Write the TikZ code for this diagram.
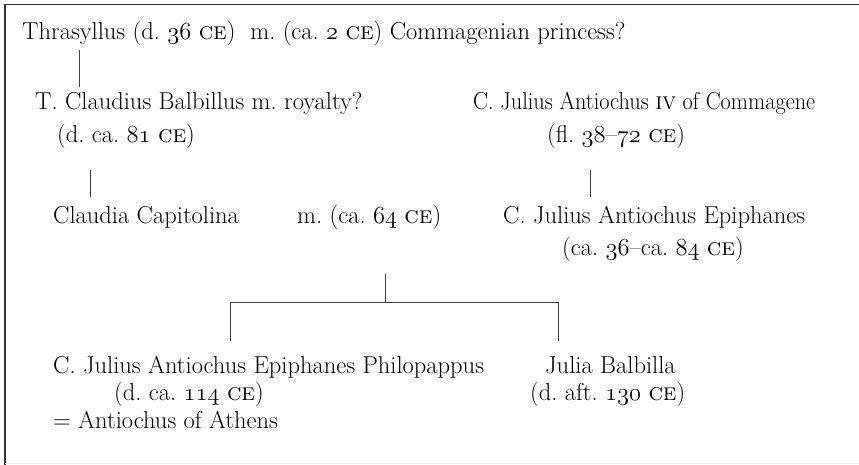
\documentclass[tikz,border=0pt]{standalone}
\usepackage{fix-cm}
\newcommand{\os}[1]{{\usefont{OML}{cmm}{m}{it}#1}}
\newcommand{\ce}{\textsc{ce}}
\begin{document}
\frenchspacing
\begin{tikzpicture}[x=1pt,y=-1pt,
  txt/.style={anchor=base west,inner sep=0pt,font=\fontsize{24.5}{30}\selectfont\frenchspacing,text=black},
  link/.style={draw=black!75,line width=0.9pt},
  frame/.style={draw=black!80,line width=1.2pt},
  faint/.style={draw=black!8,line width=1pt}]
\useasboundingbox (0,0) rectangle (859,465);
% frame
\coordinate (ftl) at (5,4.5);
\coordinate (ftr) at (859,4.5);
\coordinate (fbl) at (5,465);
\coordinate (bl) at (5,463);
\coordinate (br) at (859,463);
\draw[frame] (fbl) -- (ftl) -- (ftr);
\draw[faint] (bl) -- (br);
% texts
\node[txt] (thr) at (22,40) {Thrasyllus (d. \os{36} \ce)\ \ m. (ca. \os{2} \ce) Commagenian princess?};
\node[txt] (bal) at (35,110) {T. Claudius Balbillus m. royalty?};
\node[txt] (bald) at (57,143) {(d. ca. \os{81} \ce)};
\node[txt] (ant) at (473,110) {\scalebox{0.91}[1]{C. Julius Antiochus \textsc{iv} of Commagene}};
\node[txt] (antd) at (547,143) {(fl. \os{38}--\os{72} \ce)};
\node[txt] (cla) at (53,223) {Claudia Capitolina};
\node[txt] (mar) at (297,223) {m. (ca. \os{64} \ce)};
\node[txt] (epi) at (503,223) {C. Julius Antiochus Epiphanes};
\node[txt] (epid) at (562,255) {(ca. \os{36}--ca. \os{84} \ce)};
\node[txt] (phi) at (53,373) {C. Julius Antiochus Epiphanes Philopappus};
\node[txt] (phid) at (114,400) {(d. ca. \os{114} \ce)};
\node[txt] (phia) at (53,428) {= Antiochus of Athens};
\node[txt] (jul) at (545,373) {Julia Balbilla};
\node[txt] (juld) at (530,400) {(d. aft. \os{130} \ce)};
% connectors
\coordinate (a1) at (79,50);  \coordinate (a2) at (79,87);
\coordinate (b1) at (90,170); \coordinate (b2) at (90,197);
\coordinate (c1) at (590,170); \coordinate (c2) at (590,197);
\coordinate (m1) at (385,274); \coordinate (m2) at (385,302);
\coordinate (hl) at (230,302); \coordinate (hr) at (558,302);
\coordinate (dl) at (230,341); \coordinate (dr) at (558,341);
\draw[link] (a1) -- (a2);
\draw[link] (b1) -- (b2);
\draw[link] (c1) -- (c2);
\draw[link] (m1) -- (m2);
\draw[link] (dl) -- (hl) -- (hr) -- (dr);
\end{tikzpicture}
\end{document}
